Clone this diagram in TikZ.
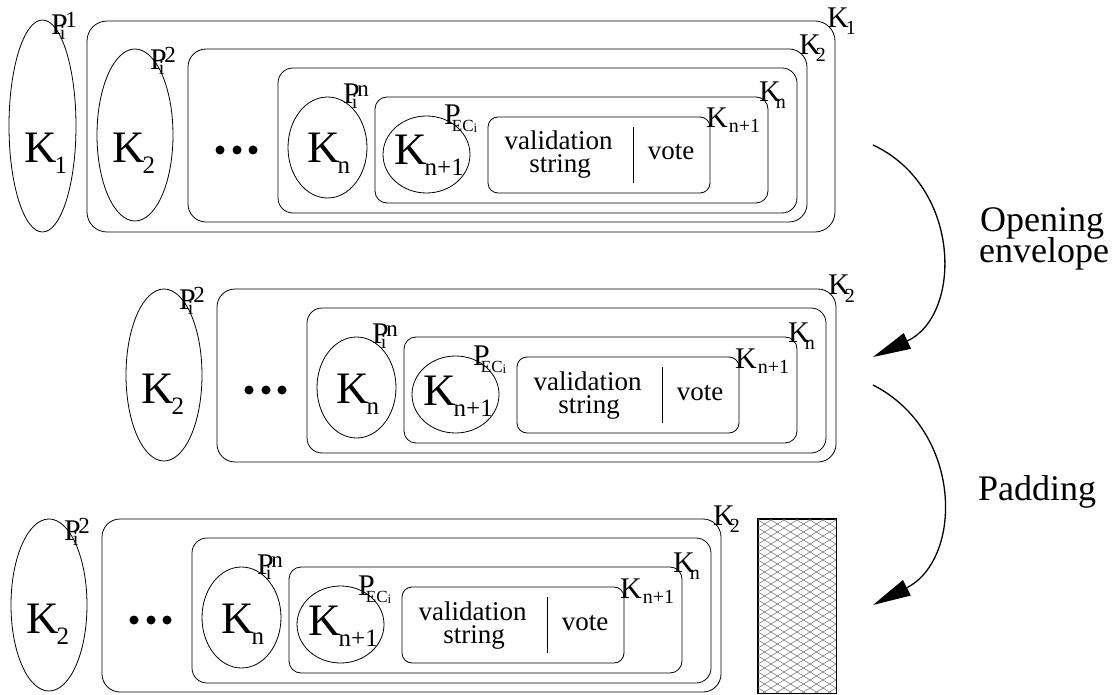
\documentclass[tikz,border=0pt]{standalone}
\usepackage{fontspec}
\setmainfont{Liberation Serif}
\usetikzlibrary{shapes.geometric,arrows.meta}
\newcommand\fs[1]{\fontsize{#1}{#1}\selectfont}
\newcommand\EK[1]{{\fs{45}K}\kern-2pt\raisebox{-11pt}{\fs{25}#1}}
\newcommand\CK[3]{{\fs{30}K}\kern#1pt\raisebox{-#2pt}{\fs{20}#3}}
\newcommand\PL[1]{{\fs{30}P}\kern-8pt\raisebox{-5pt}{\fs{20}i}\raisebox{7pt}{\fs{23}#1}}
\newcommand\PEC{{\fs{30}P}\kern-9pt\raisebox{-7pt}{\fs{17}EC\raisebox{-1pt}{\fs{13}i}}}
\tikzset{
  box/.style={draw, line width=0.8pt, inner sep=0pt},
  oval/.style={draw, ellipse, line width=0.8pt, inner sep=0pt},
  lab/.style={inner sep=0pt, anchor=base west},
  txt/.style={inner sep=0pt, anchor=base, font=\fs{27}},
  bigtxt/.style={inner sep=0pt, anchor=base west, font=\fs{36}},
  dot/.style={circle, fill, inner sep=0pt, minimum size=9pt},
  turn/.style={line width=1.3pt, -{Triangle[length=38pt,width=17pt]}},
  hatch/.style={line width=0.45pt, gray!75!black}
}
\newcommand\core[1]{%
  \node[box, rounded corners=18pt, minimum width=619pt, minimum height=173pt] (#1b2) at (497.5,135.5) {};
  \node[lab] (#1k2) at (799,55) {\CK{-5}{7}{2}};
  \node[oval, minimum width=76pt, minimum height=172pt] (#1e2) at (135,135) {};
  \node[lab] (#1ek2) at (112,163) {\EK{2}};
  \node[lab] (#1p2) at (150,70) {\PL{2}};
  \node[dot] (#1d1) at (220,150) {};
  \node[dot] (#1d2) at (237,150) {};
  \node[dot] (#1d3) at (253,150) {};
  \node[box, rounded corners=15pt, minimum width=519pt, minimum height=145pt] (#1b3) at (537.5,140.5) {};
  \node[oval, minimum width=79pt, minimum height=101pt] (#1en) at (327.5,147.5) {};
  \node[lab] (#1ekn) at (307,163) {\EK{n}};
  \node[lab] (#1pn) at (343,104) {\PL{n}};
  \node[lab] (#1kn) at (759,102) {\CK{-5}{7}{n}};
  \node[box, rounded corners=12pt, minimum width=393pt, minimum height=106pt] (#1b4) at (571.5,150) {};
  \node[oval, minimum width=87pt, minimum height=77pt] (#1enn) at (426.5,154.5) {};
  \node[lab] (#1eknn) at (394,165) {\EK{n+1}};
  \node[lab] (#1pec) at (444,125) {\PEC};
  \node[lab] (#1knn) at (706,128) {\CK{1}{5}{n+1}};
  \node[box, rounded corners=10pt, minimum width=222pt, minimum height=76pt] (#1val) at (599,155) {};
  \coordinate (#1divt) at (633,127);
  \coordinate (#1divb) at (633,183);
  \draw[line width=0.8pt] (#1divt) -- (#1divb);
  \node[txt] (#1v1) at (558.5,150) {validation};
  \node[txt] (#1v2) at (560,173) {string};
  \node[txt] (#1vote) at (671,160) {vote};
}
\begin{document}
\begin{tikzpicture}[x=1pt, y=-1pt]
\useasboundingbox (0,0) rectangle (1120,695);
% row 1
\node[oval, minimum width=67pt, minimum height=212pt] (e1) at (42.5,126) {};
\node[lab] (ek1) at (24,163) {\EK{1}};
\node[lab] (p1) at (51,35) {\PL{1}};
\node[box, rounded corners=20pt, minimum width=748pt, minimum height=211pt] (b1) at (461,126.5) {};
\node[lab] (k1) at (827,28) {\CK{-3}{7}{1}};
\core{ra}
% row 2
\begin{scope}[shift={(29,240)}]
\core{rb}
\end{scope}
% row 3
\begin{scope}[shift={(-86,470)}]
\core{rc}
\end{scope}
% padding block
\node[box, minimum width=78pt, minimum height=174pt] (pad) at (797,606) {};
\begin{scope}
\clip (pad.south west) rectangle (pad.north east);
\foreach \c in {464,472,...,704} {
  \draw[hatch] (758,\c) -- (836,{\c+48});
  \draw[hatch] (758,{\c+48}) -- (836,\c);
}
\end{scope}
\draw[line width=0.8pt] (pad.south west) rectangle (pad.north east);
% arrows
\coordinate (a1s) at (873,145);
\coordinate (a1e) at (873,357);
\coordinate (a2s) at (873,385);
\coordinate (a2e) at (873,605);
\draw[turn] (a1s) to[out=-25, in=25, looseness=1.19] (a1e);
\draw[turn] (a2s) to[out=-27, in=27, looseness=1.18] (a2e);
\node[bigtxt] (op1) at (980,232) {Opening};
\node[bigtxt] (op2) at (979,263) {envelope};
\node[bigtxt] (padt) at (978,500) {Padding};
\end{tikzpicture}
\end{document}
